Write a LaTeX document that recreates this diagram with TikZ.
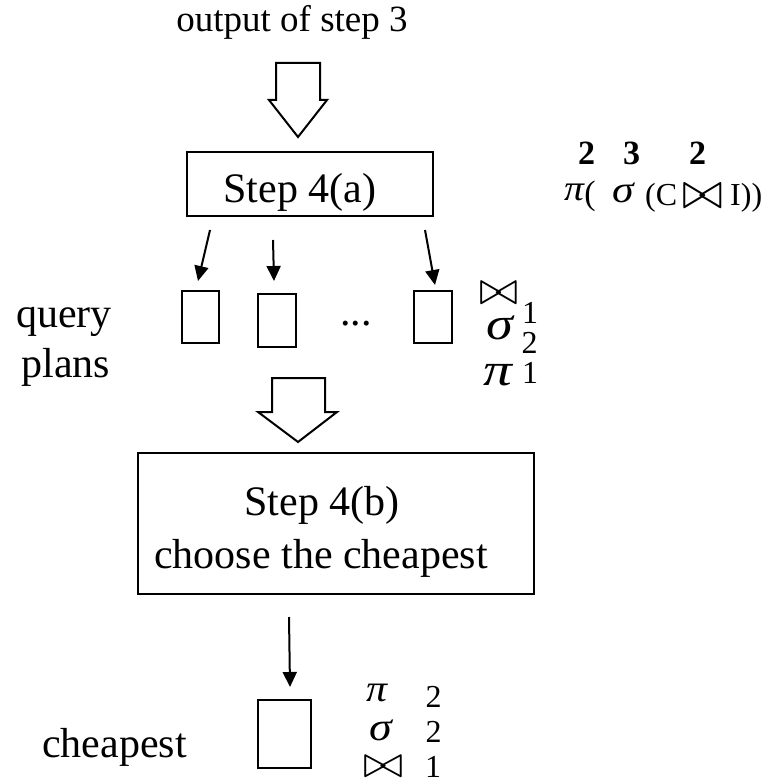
\documentclass[tikz,border=0pt]{standalone}
\usepackage{fontspec}
\usepackage{graphicx}
\setmainfont{Liberation Serif}
\usetikzlibrary{arrows.meta,calc}
\newcommand\fs[1]{\fontsize{#1}{#1}\selectfont}
\newcommand\btie[2]{\resizebox{#1}{#2}{$\bowtie$}}
\newcommand\wide[2]{\scalebox{#1}[1]{#2}}
\begin{document}
\begin{tikzpicture}[x=1pt,y=-1pt,
  box/.style={draw, line width=2pt, inner sep=0pt, anchor=north west},
  lbl/.style={inner sep=0pt, anchor=base},
  conn/.style={-{Triangle[length=15pt,width=14pt]}, line width=2pt},
  hollow/.style={draw, line width=2pt, line join=miter, fill=white}]
\useasboundingbox (0,0) rectangle (766,783);

% top label
\node[lbl, font=\fs{37}] (out3) at (292,32) {output of step 3};
\draw[hollow] (276,63) -- (320,63) -- (320,100) -- (327,100) -- (298,137) -- (269,100) -- (276,100) -- cycle;

% step 4(a)
\node[box, minimum width=246pt, minimum height=64pt] (a4) at (186,151) {};
\node[lbl, font=\fs{42}] (ta) at (300,203) {Step 4(a)};

% expression top right
\node[lbl, font=\fs{34}\bfseries] (e1) at (586.5,165) {2};
\node[lbl, font=\fs{34}\bfseries] (e2) at (631.5,165) {3};
\node[lbl, font=\fs{34}\bfseries] (e3) at (697.5,165) {2};
\node[lbl, font=\fs{36}\itshape] (epi) at (574,201) {\wide{1.1}{π}};
\node[lbl, font=\fs{34}] (ep) at (590,205) {(};
\node[lbl, font=\fs{38}\itshape] (esig) at (623,203) {\wide{1.15}{σ}};
\node[lbl, font=\fs{32}, anchor=base west] (ec) at (645,206) {(C};
\node[inner sep=0pt] (ebt) at (702.5,196) {\btie{41pt}{24pt}};
\node[lbl, font=\fs{32}, anchor=base west] (ei) at (730,206) {I))};

% query plans
\node[lbl, font=\fs{42}] (q1) at (64,327) {query};
\node[lbl, font=\fs{42}] (q2) at (66,377) {plans};
\node[box, minimum width=37pt, minimum height=52pt] (b1) at (181,290) {};
\node[box, minimum width=38pt, minimum height=53pt] (b2) at (257,293) {};
\node[lbl, font=\fs{42}] (dots) at (356,325) {...};
\node[box, minimum width=38pt, minimum height=52pt] (b3) at (413,290) {};

\draw[conn] ([xshift=24pt,yshift=-13pt]a4.south west) -- ([xshift=-2.5pt,yshift=9pt]b1.north);
\draw[conn] ([xshift=87pt,yshift=-23pt]a4.south west) -- ([xshift=-3pt,yshift=12pt]b2.north);
\draw[conn] ([xshift=-9pt,yshift=-13pt]a4.south east) -- ([xshift=2pt,yshift=5pt]b3.north);

% annotations near plans
\node[inner sep=0pt] (pbt) at (498.5,293) {\btie{39pt}{22pt}};
\node[lbl, font=\fs{32}] (p1) at (530,323) {1};
\node[lbl, font=\fs{46}\itshape] (psig) at (499.5,339) {\wide{1.18}{σ}};
\node[lbl, font=\fs{32}] (p2) at (529.5,353) {2};
\node[lbl, font=\fs{46}\itshape] (ppi) at (497.5,385) {\wide{1.25}{π}};
\node[lbl, font=\fs{32}] (p3) at (530,383) {1};

% hollow arrow 2
\draw[hollow] (272,378) -- (325,378) -- (325,412) -- (337,412) -- (298,442) -- (258,412) -- (272,412) -- cycle;

% step 4(b)
\node[box, minimum width=396pt, minimum height=141pt] (b4b) at (137,452) {};
\node[lbl, font=\fs{42}] (tb1) at (322,515) {Step 4(b)};
\node[lbl, font=\fs{42}] (tb2) at (321,568) {choose the cheapest};

% cheapest
\node[box, minimum width=53pt, minimum height=68pt] (bc) at (257,699) {};
\draw[conn] ([xshift=152pt,yshift=-22pt]b4b.south west) -- ([xshift=5.5pt,yshift=12pt]bc.north);
\node[lbl, font=\fs{42}] (ch) at (114.5,757) {cheapest};

\node[lbl, font=\fs{38}\itshape] (cpi) at (376.5,701) {\wide{1.1}{π}};
\node[lbl, font=\fs{32}] (c2a) at (433.5,707) {2};
\node[lbl, font=\fs{40}\itshape] (csig) at (380.5,740) {\wide{1.15}{σ}};
\node[lbl, font=\fs{32}] (c2b) at (433.5,742) {2};
\node[inner sep=0pt] (cbt) at (383,767) {\btie{40pt}{21pt}};
\node[lbl, font=\fs{32}] (c1) at (433,777) {1};
\end{tikzpicture}
\end{document}
